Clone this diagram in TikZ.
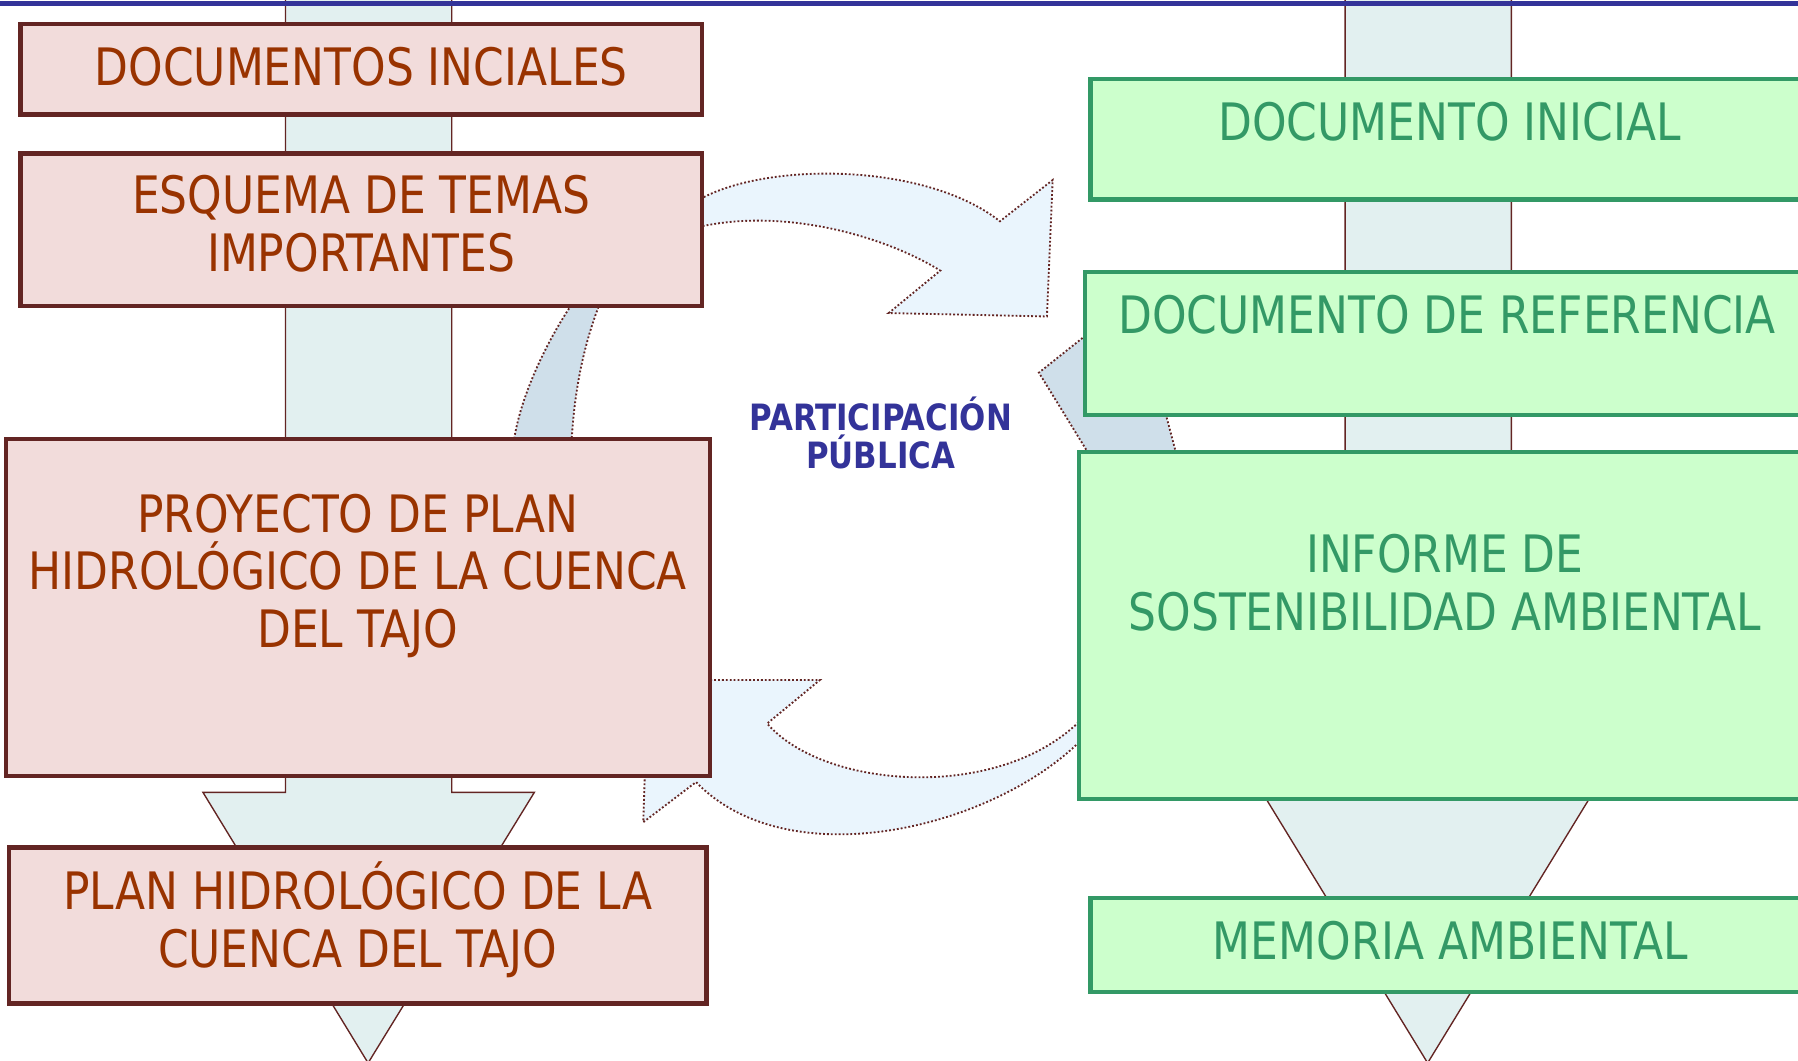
\documentclass[tikz,border=0pt]{standalone}
\usepackage{fontspec}
\setmainfont{DejaVu Sans}[FakeStretch=0.852]
\usetikzlibrary{fit}
\definecolor{pinkfill}{HTML}{F2DCDB}
\definecolor{pinkline}{HTML}{632523}
\definecolor{pinktext}{HTML}{993300}
\definecolor{greenfill}{HTML}{CCFFCC}
\definecolor{greenline}{HTML}{339966}
\definecolor{stemfill}{HTML}{E2F0F0}
\definecolor{cycfill}{HTML}{EAF5FD}
\definecolor{backfill}{HTML}{CFDFEA}
\definecolor{partblue}{HTML}{333399}
\newcommand\bigtxt{\fontsize{22.5}{25}\selectfont}
\tikzset{
  stem/.style={fill=stemfill, draw=pinkline, line width=0.6pt},
  cyc/.style={fill=cycfill, draw=pinkline, line width=0.8pt, dash pattern=on 0.8pt off 0.9pt},
  cycback/.style={cyc, fill=backfill},
  pinkbox/.style={fit={#1}, inner sep=0pt, draw=pinkline, fill=pinkfill, line width=1.9pt},
  greenbox/.style={fit={#1}, inner sep=0pt, draw=greenline, fill=greenfill, line width=1.9pt},
  pinktxt/.style={text=pinktext, font=\bigtxt, align=center, anchor=base, inner sep=0pt},
  greentxt/.style={text=greenline, font=\bigtxt, align=center, anchor=base, inner sep=0pt}
}
\begin{document}
\begin{tikzpicture}[x=0.5pt, y=-0.5pt]
\useasboundingbox (0,0) rectangle (1568,925);
\path[stem] (249,-5) -- (249,691) -- (177,691) -- (321,927) -- (466,691) -- (394,691) -- (394,-5) -- cycle;
\path[stem] (1173,-5) -- (1173,600) -- (1045,600) -- (1245,927) -- (1445,600) -- (1318,600) -- (1318,-5) -- cycle;
\draw[partblue, line width=2pt] (0,3) -- (1568,3);
\path[cycback] (506,255) .. controls (480,290) and (450,350) .. (447,395) -- (498,395) .. controls (500,340) and (510,295) .. (527,255) -- cycle;
\path[cycback] (960,282) -- (906,325) -- (957,408) -- (1029,408) -- (1015,355) -- (1000,300) -- cycle;
\path[cyc] (605,177) .. controls (660,141) and (805,140) .. (872,193) -- (918,157) -- (913,276) -- (775,273) -- (820,236) .. controls (770,205) and (680,180) .. (605,199) -- cycle;
\path[cyc] (948,640) .. controls (875,720) and (690,768) .. (607,682) -- (561,717) -- (565,593) -- (715,593) -- (669,631) .. controls (720,690) and (880,700) .. (948,622) -- cycle;
\node[pinkbox={(18,21) (612,100)}] (docs) {};
\node[pinkbox={(18,134) (612,267)}] (esquema) {};
\node[pinkbox={(5,383) (619,677)}] (proyecto) {};
\node[pinkbox={(8,739) (616,875)}] (plan) {};
\node[greenbox={(951,69) (1580,174)}] (inicial) {};
\node[greenbox={(946,237) (1580,362)}] (referencia) {};
\node[greenbox={(941,394) (1580,697)}] (informe) {};
\node[greenbox={(951,783) (1580,865)}] (memoria) {};
\node[pinktxt] (docsT) at (315,74.5) {DOCUMENTOS INCIALES};
\node[pinktxt] (esquemaT) at (315,236.5) {ESQUEMA DE TEMAS\\IMPORTANTES};
\node[pinktxt] (proyectoT) at (312,564.5) {PROYECTO DE PLAN\\HIDROLÓGICO DE LA CUENCA\\DEL TAJO};
\node[pinktxt] (planT) at (312,843.5) {PLAN HIDROLÓGICO DE LA\\CUENCA DEL TAJO};
\node[greentxt] (inicialT) at (1264,122.5) {DOCUMENTO INICIAL};
\node[greentxt] (referenciaT) at (1262,290.5) {DOCUMENTO DE REFERENCIA};
\node[greentxt] (informeT) at (1260,549.5) {INFORME DE\\SOSTENIBILIDAD AMBIENTAL};
\node[greentxt] (memoriaT) at (1265,836.5) {MEMORIA AMBIENTAL};
\node[text=partblue, font=\bfseries\fontsize{15.8}{16.5}\selectfont, align=center, anchor=base, inner sep=0pt] (part) at (768,408.5) {PARTICIPACIÓN\\PÚBLICA};
\end{tikzpicture}
\end{document}
